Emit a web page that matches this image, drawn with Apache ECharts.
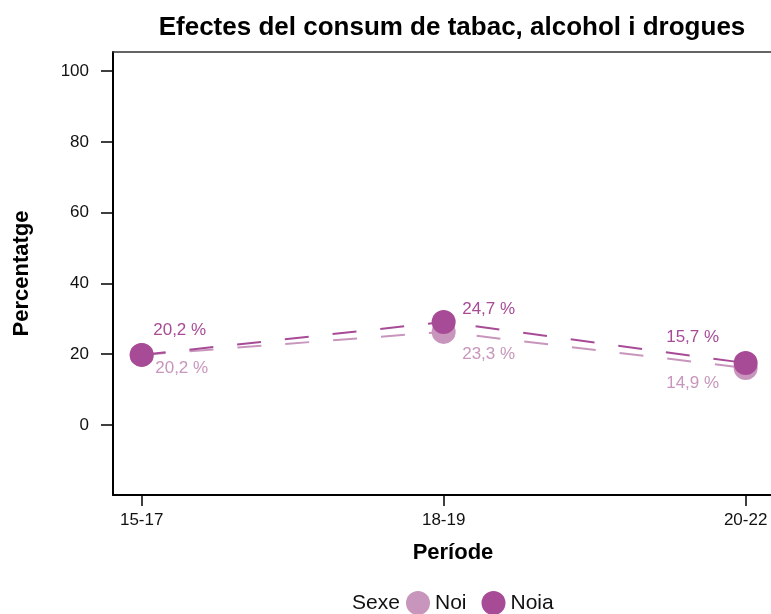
<!DOCTYPE html>
<html>
<head>
<meta charset="utf-8">
<script src="https://cdn.jsdelivr.net/npm/echarts@6/dist/echarts.min.js"></script>
<style>html,body{margin:0;padding:0;background:#fff}#c{width:771px;height:614px}</style>
</head>
<body>
<div id="c"></div>
<script>
// ---- data ----
const categories = ['15-17', '18-19', '20-22'];
const noiValues = [19.8, 26.3, 16.1];     // plotted positions
const noiaValues = [19.8, 29.1, 17.5];
const noiLabels = [20.2, 23.3, 14.9];     // printed values
const noiaLabels = [20.2, 24.7, 15.7];
const yTicks = [0, 20, 40, 60, 80, 100];
const xTicks = [0, 1, 2];

// ---- styles / layout ----
const FONT = 'Liberation Sans, Arial, Helvetica, sans-serif';
const DARK = '#A84B97';
const LIGHT = '#C896BC';
const noiOffsets = [[40, 13], [45, 22], [-53, 15]];
const noiaOffsets = [[38, -25], [45, -13], [-53, -26]];

function fmt(v) { return v.toFixed(1).replace('.', ',') + ' %'; }

function buildData(values, labels, offsets, color) {
  return values.map((v, i) => ({
    value: [i, v],
    label: {
      show: true,
      position: 'inside',
      offset: offsets[i],
      formatter: fmt(labels[i]),
      color: color,
      fontSize: 17,
      fontFamily: FONT
    }
  }));
}

const chart = echarts.init(document.getElementById('c'), null, { renderer: 'canvas' });
chart.setOption({
  animation: false,
  backgroundColor: '#fff',
  title: {
    text: 'Efectes del consum de tabac, alcohol i drogues',
    left: 447,
    textAlign: 'center',
    top: 10,
    textStyle: { fontFamily: FONT, fontWeight: 'bold', fontSize: 26, color: '#000' }
  },
  grid: { left: 113, right: 0, top: 52, bottom: 119 },
  xAxis: [{
    type: 'value',
    min: -0.095,
    max: 2.084,
    splitLine: { show: false },
    axisLine: { show: true, onZero: false, lineStyle: { color: '#000', width: 2 } },
    axisTick: { show: true, inside: false, length: 11, customValues: xTicks, lineStyle: { color: '#000', width: 1.5 } },
    axisLabel: {
      customValues: xTicks,
      formatter: v => categories[v],
      fontSize: 17, fontFamily: FONT, color: '#111', margin: 17
    },
    name: 'Període',
    nameLocation: 'middle',
    nameGap: 47,
    nameTextStyle: { fontFamily: FONT, fontWeight: 'bold', fontSize: 22, color: '#000', padding: [0, 0, 0, 22] }
  }, {
    type: 'value',
    position: 'top',
    min: 0, max: 1,
    splitLine: { show: false },
    axisLine: { show: true, onZero: false, lineStyle: { color: '#333', width: 1.5 } },
    axisTick: { show: false },
    axisLabel: { show: false }
  }],
  yAxis: {
    type: 'value',
    min: -19.8,
    max: 105.4,
    splitLine: { show: false },
    axisLine: { show: true, onZero: false, lineStyle: { color: '#000', width: 2 } },
    axisTick: { show: true, inside: false, length: 12, customValues: yTicks, lineStyle: { color: '#000', width: 1.5 } },
    axisLabel: { customValues: yTicks, fontSize: 17, fontFamily: FONT, color: '#111', margin: 24 },
    name: 'Percentatge',
    nameLocation: 'middle',
    nameRotate: 90,
    nameGap: 80,
    nameTextStyle: { fontFamily: FONT, fontWeight: 'bold', fontSize: 22, color: '#000' }
  },
  legend: {
    left: 406,
    top: 591,
    padding: 0,
    itemWidth: 24,
    itemHeight: 24,
    itemGap: 15,
    icon: 'circle',
    textStyle: { fontFamily: FONT, fontSize: 21, color: '#111' },
    data: ['Noi', 'Noia']
  },
  graphic: [{
    type: 'text',
    left: 352,
    top: 593,
    style: { text: 'Sexe', fontFamily: FONT, fontSize: 21, fill: '#111' }
  }],
  series: [{
    name: 'Noi',
    type: 'line',
    data: buildData(noiValues, noiLabels, noiOffsets, LIGHT),
    symbol: 'circle',
    symbolSize: 24,
    itemStyle: { color: LIGHT },
    lineStyle: { color: LIGHT, width: 2, type: [24, 24] },
    z: 2
  }, {
    name: 'Noia',
    type: 'line',
    data: buildData(noiaValues, noiaLabels, noiaOffsets, DARK),
    symbol: 'circle',
    symbolSize: 24,
    itemStyle: { color: DARK },
    lineStyle: { color: DARK, width: 2, type: [24, 24] },
    z: 3
  }]
});
</script>
</body>
</html>
